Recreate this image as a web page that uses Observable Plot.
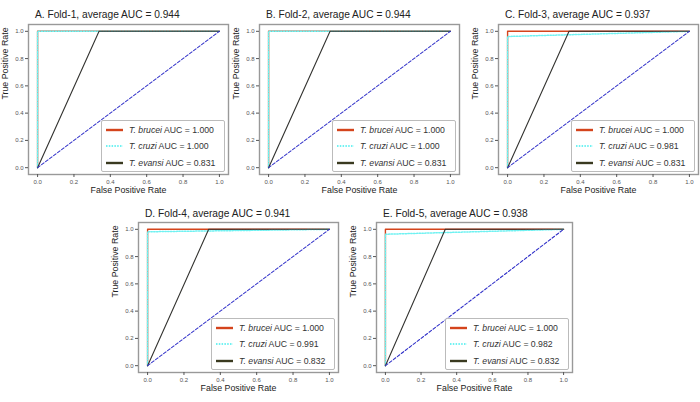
<!DOCTYPE html>
<html><head><meta charset="utf-8">
<script src="https://cdn.jsdelivr.net/npm/d3@7"></script>
<script src="https://cdn.jsdelivr.net/npm/@observablehq/plot@0.6"></script>
<style>
body{margin:0;background:#fff;font-family:"Liberation Sans",Arial,sans-serif;}
#fig{position:relative;width:700px;height:402px;overflow:hidden;background:#fff;}
.panel{position:absolute;width:230px;height:200px;}
.panel svg{position:absolute;left:0;top:0;}
.title{position:absolute;font-size:10.2px;line-height:12px;color:#222;white-space:nowrap;}
.legend{position:absolute;background:#fff;border:1.5px solid #bbb;border-radius:2px;box-sizing:border-box;width:124px;height:52px;}
.row{position:absolute;left:4px;height:12px;font-size:8.7px;line-height:12px;color:#333;white-space:nowrap;}
.row svg{position:absolute;left:0;top:3px;}
.row span{position:absolute;left:23px;top:0;}
</style></head>
<body><div id="fig"></div>
<script>
// ---- data ----
const panelLetters = ["A", "B", "C", "D", "E"];
const foldNames = ["Fold-1", "Fold-2", "Fold-3", "Fold-4", "Fold-5"];
const averageAUC = [0.944, 0.944, 0.937, 0.941, 0.938];
const speciesNames = ["T. brucei", "T. cruzi", "T. evansi"];
const bruceiAUC = [1.000, 1.000, 1.000, 1.000, 1.000];
const cruziAUC = [1.000, 1.000, 0.981, 0.991, 0.982];
const evansiAUC = [0.831, 0.831, 0.831, 0.832, 0.832];
// ROC curve vertices
const bruceiFPR = [0, 0, 1];
const bruceiTPR = [0, 1, 1];
const cruziFPR = [0, 0, 1];
const cruziStepTPR = [1.000, 1.000, 0.962, 0.982, 0.964];
const evansiKneeFPR = [0.338, 0.338, 0.338, 0.336, 0.336];
const chanceFPR = [0, 1];
const chanceTPR = [0, 1];
const tickValues = [0, 0.2, 0.4, 0.6, 0.8, 1.0];

// ---- styles / layout ----
const colors = {brucei: "#d4441c", cruzi: "#6ff2f2", evansi: "#333330", chance: "#3030c8"};
const layout = [
  {left: 0, top: 0, ml: 28, fw: 200, titleTop: 9},
  {left: 230, top: 0, ml: 29, fw: 200, titleTop: 9},
  {left: 470, top: 0, ml: 28, fw: 200, titleTop: 9},
  {left: 110, top: 198, ml: 28, fw: 200, titleTop: 10},
  {left: 348, top: 198, ml: 28, fw: 196, titleTop: 10}
];
const fig = document.getElementById("fig");
const font = '"Liberation Sans", Arial, sans-serif';

function pts(xs, ys) { return xs.map((x, i) => ({fpr: x, tpr: ys[i]})); }

function swatch(kind) {
  const s = {
    brucei: `<line x1="0" y1="3" x2="17" y2="3" stroke="${colors.brucei}" stroke-width="2.4"/>`,
    cruzi: `<line x1="0" y1="3" x2="17" y2="3" stroke="${colors.cruzi}" stroke-width="2" stroke-dasharray="1.5,1.3"/>`,
    evansi: `<line x1="0" y1="3" x2="17" y2="3" stroke="#3a3a20" stroke-width="2.4"/>`
  }[kind];
  return `<svg width="18" height="6">${s}</svg>`;
}

panelLetters.forEach((letter, i) => {
  const L = layout[i];
  const W = 230, H = 200, mt = 24, mb = 26, ml = L.ml, mr = W - ml - L.fw;
  const panel = document.createElement("div");
  panel.className = "panel";
  panel.style.left = L.left + "px";
  panel.style.top = L.top + "px";

  const brucei = pts(bruceiFPR, bruceiTPR);
  const cruzi = pts(cruziFPR, [0, cruziStepTPR[i], 1]);
  const evansi = pts([0, evansiKneeFPR[i], 1], [0, 1, 1]);
  const chance = pts(chanceFPR, chanceTPR);

  const chart = Plot.plot({
    width: W, height: H,
    marginTop: mt, marginBottom: mb, marginLeft: ml, marginRight: mr,
    x: {domain: [-0.05, 1.05]},
    y: {domain: [-0.05, 1.05]},
    style: {fontFamily: font, background: "transparent", overflow: "visible"},
    marks: [
      Plot.line(brucei, {x: "fpr", y: "tpr", stroke: colors.brucei, strokeWidth: 1.4}),
      Plot.line(cruzi, {x: "fpr", y: "tpr", stroke: colors.cruzi, strokeWidth: 1.5, strokeDasharray: "1.4,1.4"}),
      Plot.line(evansi, {x: "fpr", y: "tpr", stroke: colors.evansi, strokeWidth: 1.1}),
      Plot.line(chance, {x: "fpr", y: "tpr", stroke: colors.chance, strokeWidth: 1.1, strokeDasharray: "3,2"}),
      Plot.frame({stroke: "#999", strokeWidth: 1.4}),
      Plot.axisX(tickValues, {tickFormat: d => d.toFixed(1), tickSize: 3, tickPadding: 2, fontSize: 6, label: null, color: "#555"}),
      Plot.axisY(tickValues, {tickFormat: d => d.toFixed(1), tickSize: 3, tickPadding: 2, fontSize: 6, label: null, color: "#555"}),
      Plot.text(["False Positive Rate"], {frameAnchor: "bottom", dy: 18, fontSize: 8.8, fill: "#222"}),
      Plot.text(["True Positive Rate"], {frameAnchor: "left", rotate: -90, dx: -23, fontSize: 8.8, fill: "#222"})
    ]
  });
  panel.appendChild(chart);

  const title = document.createElement("div");
  title.className = "title";
  title.style.left = (ml + 7) + "px";
  title.style.top = L.titleTop + "px";
  title.textContent = `${letter}. ${foldNames[i]}, average AUC = ${averageAUC[i].toFixed(3)}`;
  panel.appendChild(title);

  const legend = document.createElement("div");
  legend.className = "legend";
  legend.style.left = (ml + L.fw - 3 - 124) + "px";
  legend.style.top = (mt + 150 - 2 - 52) + "px";
  const aucs = [bruceiAUC[i], cruziAUC[i], evansiAUC[i]];
  const kinds = ["brucei", "cruzi", "evansi"];
  const rowTops = [3, 19, 36];
  kinds.forEach((k, j) => {
    const row = document.createElement("div");
    row.className = "row";
    row.style.top = rowTops[j] + "px";
    row.innerHTML = swatch(k) + `<span><i>${speciesNames[j]}</i> AUC = ${aucs[j].toFixed(3)}</span>`;
    legend.appendChild(row);
  });
  panel.appendChild(legend);

  fig.appendChild(panel);
});
</script>
</body></html>
